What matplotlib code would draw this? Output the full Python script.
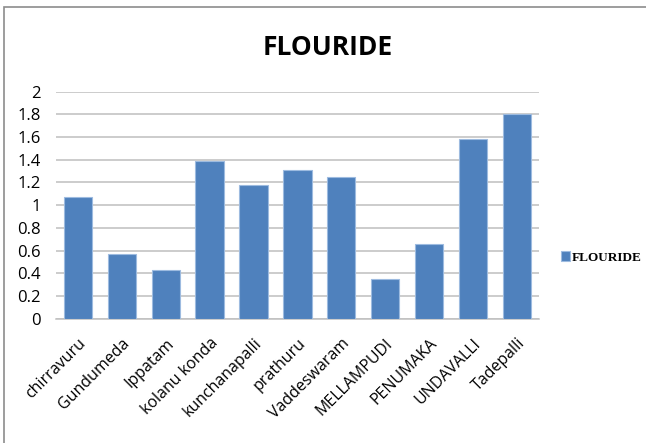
import matplotlib.pyplot as plt
from matplotlib.patches import Rectangle

villages = ["chirravuru", "Gundumeda", "Ippatam", "kolanu konda", "kunchanapalli",
            "prathuru", "Vaddeswaram", "MELLAMPUDI", "PENUMAKA", "UNDAVALLI", "Tadepalli"]
flouride = [1.07, 0.57, 0.43, 1.39, 1.18, 1.31, 1.25, 0.35, 0.66, 1.58, 1.80]
yticks = [0, 0.2, 0.4, 0.6, 0.8, 1, 1.2, 1.4, 1.6, 1.8, 2]
ytick_labels = ["0", "0.2", "0.4", "0.6", "0.8", "1", "1.2", "1.4", "1.6", "1.8", "2"]

plt.rcParams["font.family"] = ["Open Sans", "DejaVu Sans"]

fig = plt.figure(figsize=(6.46, 4.43), dpi=100)
ax = fig.add_axes([0.0867, 0.2806, 0.7473, 0.5124])

# outer chart frame (cut by the page edge)
fig.patches.append(Rectangle((4 / 646, -0.01), 1.0, 1 - 7 / 443 + 0.01,
                             transform=fig.transFigure, fill=False,
                             edgecolor="#8c8c8c", linewidth=1.2))

x = range(len(villages))
bars = ax.bar(x, flouride, width=0.645, color="#4f81bd", edgecolor="#9dbbe0",
              linewidth=0.8, zorder=3, label="FLOURIDE")

ax.set_xlim(-0.5, len(villages) - 0.5)
ax.set_ylim(0, 2)
ax.set_yticks(yticks)
ax.set_yticklabels(ytick_labels, fontsize=12)
ax.tick_params(axis="y", length=0, pad=11)
ax.tick_params(axis="x", length=0, pad=12)
ax.set_xticks(list(x))
ax.set_xticklabels(villages, rotation=45, ha="right", rotation_mode="anchor", fontsize=11.5)

ax.grid(axis="y", color="#bfbfbf", linewidth=1.1, zorder=0)
for s in ["left", "right", "top"]:
    ax.spines[s].set_visible(False)
ax.spines["bottom"].set_color("#bfbfbf")
ax.spines["bottom"].set_linewidth(1.1)

fig.text(0.508, 0.893, "FLOURIDE", ha="center", va="center", fontsize=19,
         fontweight="bold", family="Open Sans")

ax.legend(loc="center left", bbox_to_anchor=(1.022, 0.27), frameon=False,
          handlelength=0.7, handleheight=0.7, handletextpad=0.1,
          prop={"family": "Liberation Serif", "weight": "bold", "size": 9.5})

fig.savefig("out.png", dpi=100)
